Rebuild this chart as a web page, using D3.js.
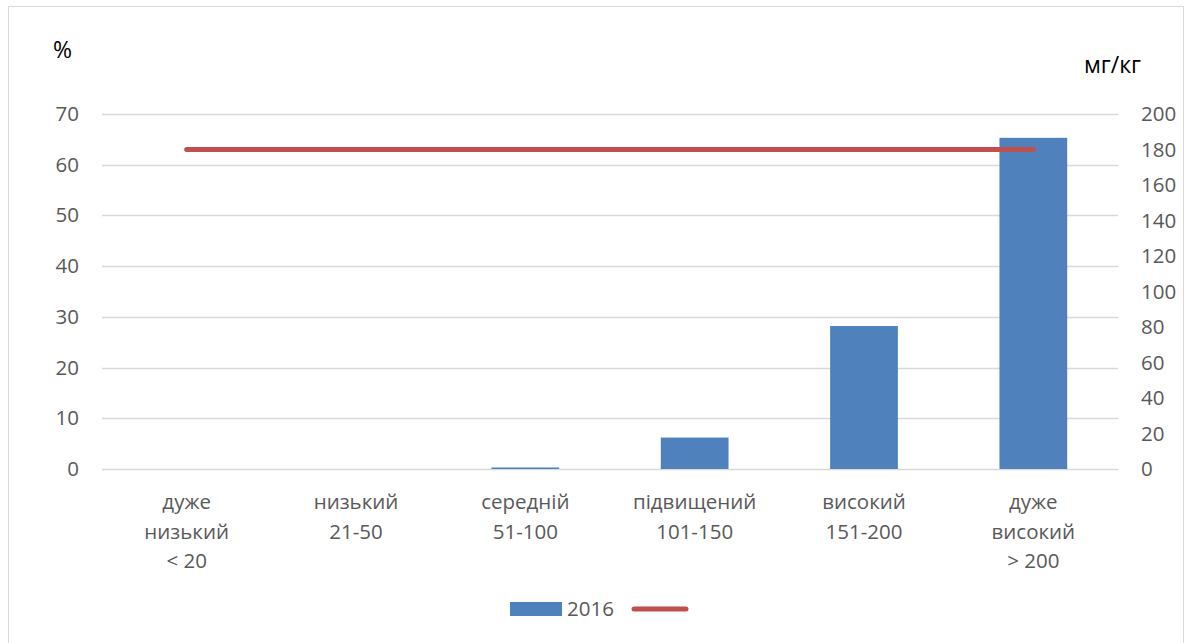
<!DOCTYPE html>
<html>
<head>
<meta charset="utf-8">
<script src="https://cdn.jsdelivr.net/npm/d3@7"></script>
<style>
  body { margin: 0; background: #fff; }
  svg text { font-family: "Open Sans", "Noto Sans", sans-serif; }
</style>
</head>
<body>
<div id="chart"></div>
<script>
// Дані з рисунку
const categories = [
    ["дуже", "низький", "< 20"],
    ["низький", "21-50"],
    ["середній", "51-100"],
    ["підвищений", "101-150"],
    ["високий", "151-200"],
    ["дуже", "високий", "> 200"]
];
const barValues = [0, 0, 0.3, 6.2, 28.2, 65.3];   // %, 2016
const lineValues = [180, 180, 180, 180, 180, 180]; // мг/кг
const leftTicks = [0, 10, 20, 30, 40, 50, 60, 70];
const rightTicks = [0, 20, 40, 60, 80, 100, 120, 140, 160, 180, 200];
const seriesName = "2016";

const width = 1189;
const height = 643;
const margin = { top: 114, right: 71, bottom: 174, left: 102 };
const fontSize = "20.5px";

const svg = d3.select("#chart")
    .append("svg")
    .attr("width", width)
    .attr("height", height);

// рамка
svg.append("rect")
    .attr("x", 8.5)
    .attr("y", 6.5)
    .attr("width", 1175)
    .attr("height", 640)
    .attr("fill", "none")
    .attr("stroke", "#d9d9d9");

const x = d3.scaleBand()
    .domain(d3.range(categories.length))
    .range([margin.left, width - margin.right])
    .paddingInner(0.6)
    .paddingOuter(0.3);

const xPoint = i => x(i) + x.bandwidth() / 2;

const yLeft = d3.scaleLinear()
    .domain([0, 70])
    .range([height - margin.bottom, margin.top]);

const yRight = d3.scaleLinear()
    .domain([0, 200])
    .range([height - margin.bottom, margin.top]);

// сітка
svg.append("g")
    .selectAll("line")
    .data(leftTicks)
    .enter()
    .append("line")
    .attr("x1", margin.left)
    .attr("x2", width - margin.right)
    .attr("y1", d => Math.round(yLeft(d)) + 0.5)
    .attr("y2", d => Math.round(yLeft(d)) + 0.5)
    .attr("stroke", "#d9d9d9")
    .attr("stroke-width", 1.3);

// ліва вісь
const axisLeft = svg.append("g")
    .attr("transform", `translate(${margin.left}, 0)`)
    .call(d3.axisLeft(yLeft).tickValues(leftTicks).tickSize(0).tickPadding(23));
axisLeft.select(".domain").remove();
axisLeft.selectAll("text")
    .style("font-size", fontSize)
    .attr("fill", "#595959");

// права вісь
const axisRight = svg.append("g")
    .attr("transform", `translate(${width - margin.right}, 0)`)
    .call(d3.axisRight(yRight).tickValues(rightTicks).tickSize(0).tickPadding(23));
axisRight.select(".domain").remove();
axisRight.selectAll("text")
    .style("font-size", fontSize)
    .attr("fill", "#595959");

// стовпчики
svg.append("g")
    .selectAll("rect")
    .data(barValues)
    .enter()
    .append("rect")
    .attr("x", (d, i) => x(i))
    .attr("y", d => yLeft(d))
    .attr("width", x.bandwidth())
    .attr("height", d => yLeft(0) - yLeft(d))
    .attr("fill", "#4f81bd");

// лінія
const line = d3.line()
    .x((d, i) => xPoint(i))
    .y(d => yRight(d));

svg.append("path")
    .datum(lineValues)
    .attr("d", line)
    .attr("fill", "none")
    .attr("stroke", "#c0504d")
    .attr("stroke-width", 5)
    .attr("stroke-linecap", "round");

// підписи категорій
const catLabels = svg.append("g")
    .selectAll("text")
    .data(categories)
    .enter()
    .append("text")
    .attr("text-anchor", "middle")
    .attr("fill", "#595959")
    .style("font-size", fontSize);

catLabels.each(function (lines, i) {
    d3.select(this).selectAll("tspan")
        .data(lines)
        .enter()
        .append("tspan")
        .attr("x", xPoint(i))
        .attr("y", (d, j) => 509 + j * 29.5)
        .text(d => d);
});

// назви осей
svg.append("text")
    .attr("x", 53)
    .attr("y", 58)
    .style("font-size", "23px")
    .attr("fill", "#000")
    .text("%");

svg.append("text")
    .attr("x", 1084)
    .attr("y", 73)
    .style("font-size", "23px")
    .attr("fill", "#000")
    .text("мг/кг");

// легенда
const legend = svg.append("g");
legend.append("rect")
    .attr("x", 510)
    .attr("y", 602)
    .attr("width", 52)
    .attr("height", 14)
    .attr("fill", "#4f81bd");
legend.append("text")
    .attr("x", 567)
    .attr("y", 616)
    .style("font-size", fontSize)
    .attr("fill", "#595959")
    .text(seriesName);
legend.append("line")
    .attr("x1", 634)
    .attr("x2", 686)
    .attr("y1", 609)
    .attr("y2", 609)
    .attr("stroke", "#c0504d")
    .attr("stroke-width", 5)
    .attr("stroke-linecap", "round");
</script>
</body>
</html>
